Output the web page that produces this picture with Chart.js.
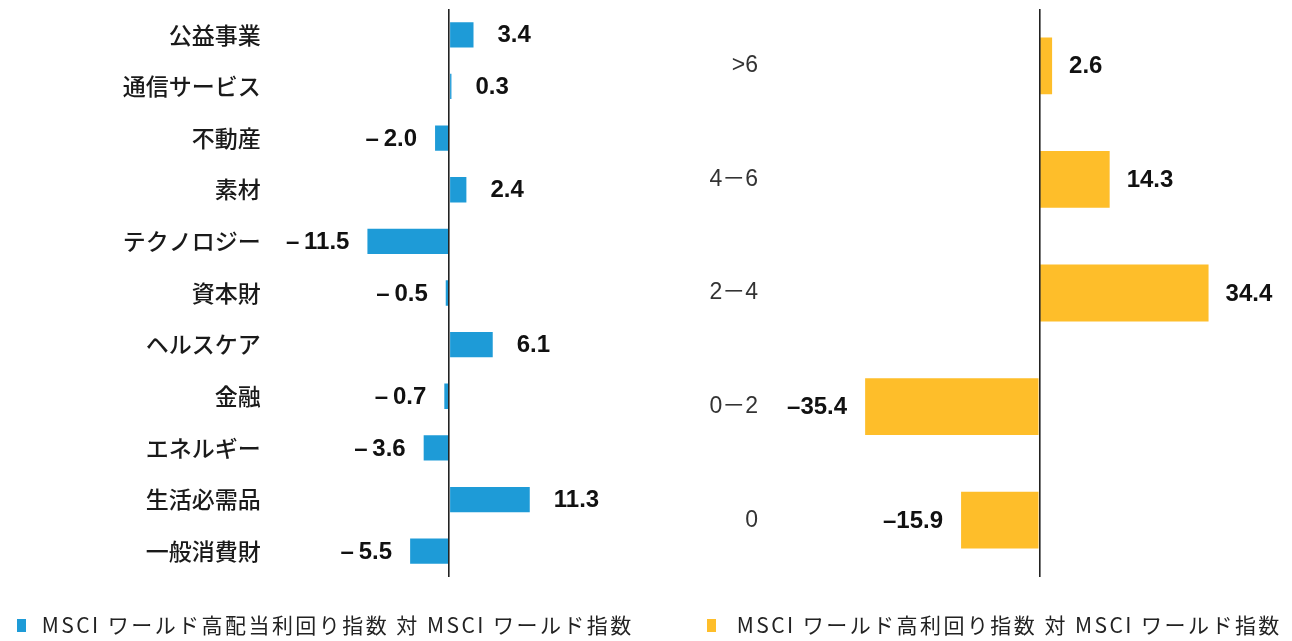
<!DOCTYPE html>
<html lang="ja">
<head>
<meta charset="utf-8">
<title>MSCI chart</title>
<script src="https://cdn.jsdelivr.net/npm/chart.js@4/dist/chart.umd.min.js"></script>
<style>
  html, body { margin: 0; padding: 0; background: #ffffff; }
  body { width: 1292px; height: 641px; position: relative; overflow: hidden; }
  .wrap { position: absolute; top: 0; }
  #leftWrap { left: 0; width: 690px; height: 641px; }
  #rightWrap { left: 690px; width: 602px; height: 641px; }
</style>
</head>
<body>
<div class="wrap" id="leftWrap"><canvas id="leftChart" width="690" height="641"></canvas></div>
<div class="wrap" id="rightWrap"><canvas id="rightChart" width="602" height="641"></canvas></div>
<script>
// ---- Data ----
const sectorLabels = ['公益事業', '通信サービス', '不動産', '素材', 'テクノロジー', '資本財', 'ヘルスケア', '金融', 'エネルギー', '生活必需品', '一般消費財'];
const sectorValues = [3.4, 0.3, -2.0, 2.4, -11.5, -0.5, 6.1, -0.7, -3.6, 11.3, -5.5];
const yieldLabels = ['>6', '4－6', '2－4', '0－2', '0'];
const yieldValues = [2.6, 14.3, 34.4, -35.4, -15.9];
const seriesNames = ['MSCI ワールド高配当利回り指数 対 MSCI ワールド指数', 'MSCI ワールド高利回り指数 対 MSCI ワールド指数'];
const seriesColors = ['#1E9BD7', '#FEBE2A'];

// ---- Helpers / plugins ----
function legendSwatch(color) {
  const c = document.createElement('canvas');
  c.width = 9; c.height = 13;
  const g = c.getContext('2d');
  g.fillStyle = color;
  g.fillRect(0, 0, 9, 13);
  return c;
}

function makeValueLabels(cfg) {
  return {
    id: 'valueLabels',
    afterDatasetsDraw(chart) {
      const ctx = chart.ctx;
      const meta = chart.getDatasetMeta(0);
      const data = chart.data.datasets[0].data;
      ctx.save();
      ctx.font = cfg.font;
      ctx.fillStyle = cfg.color;
      ctx.textBaseline = 'middle';
      meta.data.forEach((bar, i) => {
        const v = data[i];
        if (v >= 0) {
          ctx.textAlign = 'left';
          ctx.fillText(cfg.format(v), bar.x + cfg.posOffset, bar.y + 1);
        } else {
          ctx.textAlign = 'right';
          ctx.fillText(cfg.format(v), bar.x - cfg.negOffset, bar.y + 1);
        }
      });
      ctx.restore();
    }
  };
}

const legendTweaks = {
  id: 'legendTweaks',
  afterLayout(chart) {
    const lg = chart.legend;
    if (lg) {
      lg.right = chart.width;
      lg.width = lg.right - lg.left;
    }
  },
  afterUpdate(chart) {
    const lg = chart.legend;
    if (lg && !lg._spacingPatched) {
      const orig = lg.draw.bind(lg);
      lg.draw = function () {
        chart.ctx.save();
        chart.ctx.letterSpacing = '2.45px';
        orig();
        chart.ctx.restore();
      };
      lg._spacingPatched = true;
    }
  }
};

function zeroLineGrid() {
  return {
    z: 1,
    drawTicks: false,
    color: (c) => (c.tick && c.tick.value === 0 ? '#222222' : 'rgba(0,0,0,0)'),
    lineWidth: (c) => (c.tick && c.tick.value === 0 ? 1.6 : 0)
  };
}

function makeChart(canvasId, cfg) {
  return new Chart(document.getElementById(canvasId), {
    type: 'bar',
    data: {
      labels: cfg.labels,
      datasets: [{
        label: cfg.name,
        data: cfg.values,
        backgroundColor: cfg.color,
        borderWidth: 0,
        barPercentage: cfg.barPercentage,
        categoryPercentage: 1.0
      }]
    },
    options: {
      indexAxis: 'y',
      responsive: false,
      animation: false,
      events: [],
      layout: {
        autoPadding: false,
        padding: { left: cfg.padLeft, right: cfg.padRight, top: 9, bottom: 0 }
      },
      scales: {
        x: {
          min: cfg.min,
          max: cfg.max,
          ticks: { display: false, stepSize: 5 },
          grid: zeroLineGrid(),
          border: { display: false },
          afterFit: (s) => { s.height = 34; s.paddingLeft = 0; s.paddingRight = 0; }
        },
        y: {
          ticks: {
            color: cfg.tickColor,
            font: cfg.tickFont,
            padding: cfg.tickPadding
          },
          grid: { display: false, drawTicks: false },
          border: { display: false },
          afterFit: (s) => { s.width = cfg.yWidth; s.paddingTop = 0; s.paddingBottom = 0; }
        }
      },
      plugins: {
        legend: {
          display: true,
          position: 'bottom',
          align: 'start',
          maxHeight: 30,
          labels: {
            color: '#222222',
            font: { family: '"Noto Sans CJK JP", "Liberation Sans", sans-serif', size: 21 },
            usePointStyle: true,
            pointStyle: legendSwatch(cfg.color),
            pointStyleWidth: cfg.swatchSlot,
            boxHeight: 13,
            padding: 4
          }
        },
        tooltip: { enabled: false }
      }
    },
    plugins: [makeValueLabels(cfg.valueLabels), legendTweaks]
  });
}

makeChart('leftChart', {
  labels: sectorLabels,
  values: sectorValues,
  name: seriesNames[0],
  color: seriesColors[0],
  barPercentage: 0.49,
  min: -25,
  max: 25,
  padLeft: 7.2,
  padRight: 62.7,
  yWidth: 264.1,
  swatchSlot: 20,
  tickPadding: 10.6,
  tickColor: '#1a1a1a',
  tickFont: { family: '"Noto Sans CJK JP", sans-serif', size: 23, weight: '500' },
  valueLabels: {
    font: 'bold 24px "Liberation Sans", Arial, sans-serif',
    color: '#111111',
    posOffset: 24,
    negOffset: 18,
    format: (v) => (v < 0 ? '\u2013\u2009' + Math.abs(v).toFixed(1) : v.toFixed(1))
  }
});

makeChart('rightChart', {
  labels: yieldLabels,
  values: yieldValues,
  name: seriesNames[1],
  color: seriesColors[1],
  barPercentage: 0.5,
  min: -55,
  max: 45,
  padLeft: 2.2,
  padRight: 31.3,
  yWidth: 76.5,
  swatchSlot: 30,
  tickPadding: 10.7,
  tickColor: '#333333',
  tickFont: { family: '"Liberation Sans", "Noto Sans CJK JP", sans-serif', size: 23 },
  valueLabels: {
    font: 'bold 24px "Liberation Sans", Arial, sans-serif',
    color: '#111111',
    posOffset: 17,
    negOffset: 18,
    format: (v) => (v < 0 ? '\u2013' + Math.abs(v).toFixed(1) : v.toFixed(1))
  }
});
</script>
</body>
</html>
